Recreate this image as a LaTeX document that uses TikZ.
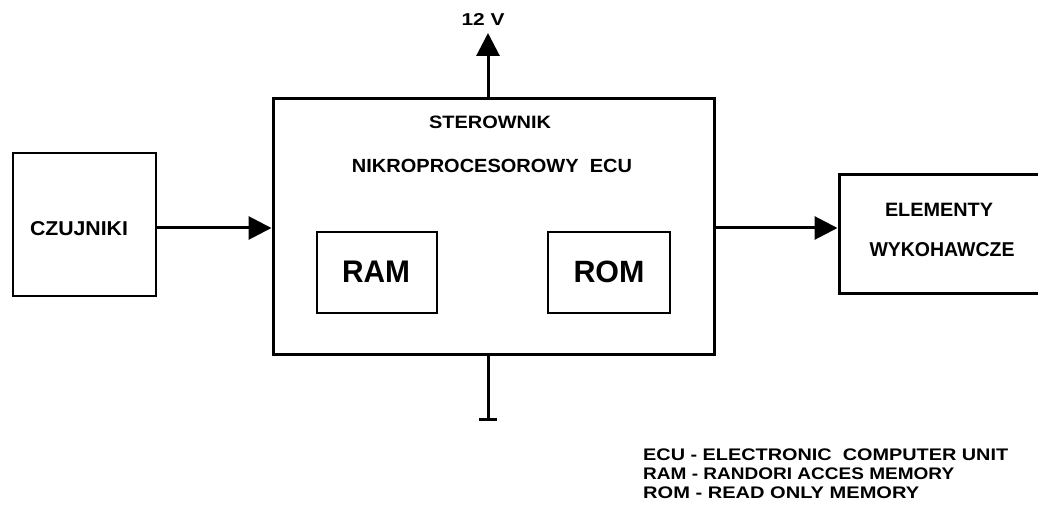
\documentclass[tikz,border=0pt]{standalone}
\usepackage{fontspec}
\setmainfont{Liberation Sans}
\usetikzlibrary{arrows.meta}
\newcommand{\fittxt}[3]{\resizebox{#1}{#2}{\bfseries #3}}
\begin{document}
\begin{tikzpicture}[x=1pt,y=-1pt,
  box/.style={draw=black,rectangle,inner sep=0pt},
  lbl/.style={font=\fontsize{17}{17}\selectfont,inner sep=0pt,anchor=center},
  leg/.style={font=\fontsize{16}{16}\selectfont,inner sep=0pt,anchor=west},
  conn/.style={line width=3pt,-{Triangle[length=23pt,width=23pt]}}
]
\path[use as bounding box,clip] (0,0) rectangle (1038,521);
% boxes
\node[box,line width=2pt,minimum width=143pt,minimum height=143pt] (czu) at (84.5,224.5) {};
\node[box,line width=3pt,minimum width=441pt,minimum height=255pt] (ecu) at (493.5,226.5) {};
\node[box,line width=2.5pt,minimum width=120pt,minimum height=81pt] (ram) at (377,272.5) {};
\node[box,line width=2.5pt,minimum width=122pt,minimum height=81pt] (rom) at (609,272.5) {};
\node[box,line width=3pt,minimum width=201pt,minimum height=118pt] (ele) at (939.5,234) {};
% texts
\node[lbl] (tczu) at (79,229) {\fittxt{98pt}{14pt}{CZUJNIKI}};
\node[lbl] (tster) at (490,122) {\fittxt{122pt}{12.5pt}{STEROWNIK}};
\node[lbl] (tnik) at (492,166) {\fittxt{280pt}{13.3pt}{NIKROPROCESOROWY\ \ ECU}};
\node[lbl] (tram) at (376,272) {\fittxt{68pt}{21.5pt}{RAM}};
\node[lbl] (trom) at (609,272) {\fittxt{71pt}{21.5pt}{ROM}};
\node[lbl] (tel) at (939,210) {\fittxt{108pt}{13.3pt}{ELEMENTY}};
\node[lbl] (twy) at (942,250) {\fittxt{145pt}{14pt}{WYKOHAWCZE}};
\node[lbl] (t12) at (483,20) {\fittxt{43pt}{12pt}{12 V}};
% coordinates
\coordinate (v12) at (488,33);
\coordinate (gnd) at (488,419);
\coordinate (gl) at (479,419);
\coordinate (gr) at (497,419);
% connectors
\draw[conn] (czu.east |- 0,228) -- (ecu.west |- 0,228);
\draw[conn] (ecu.east |- 0,228) -- (ele.west |- 0,228);
\draw[conn] (ecu.north -| v12) -- (v12);
\draw[line width=3pt] (ecu.south -| gnd) -- (gnd);
\draw[line width=3pt] (gl) -- (gr);
% legend
\node[leg] (l1) at (643,455) {\fittxt{365pt}{11.7pt}{ECU - ELECTRONIC\ \ COMPUTER UNIT}};
\node[leg] (l2) at (643,474) {\fittxt{311pt}{11.7pt}{RAM - RANDORI ACCES MEMORY}};
\node[leg] (l3) at (643,493) {\fittxt{276pt}{11.7pt}{ROM - READ ONLY MEMORY}};
\end{tikzpicture}
\end{document}
